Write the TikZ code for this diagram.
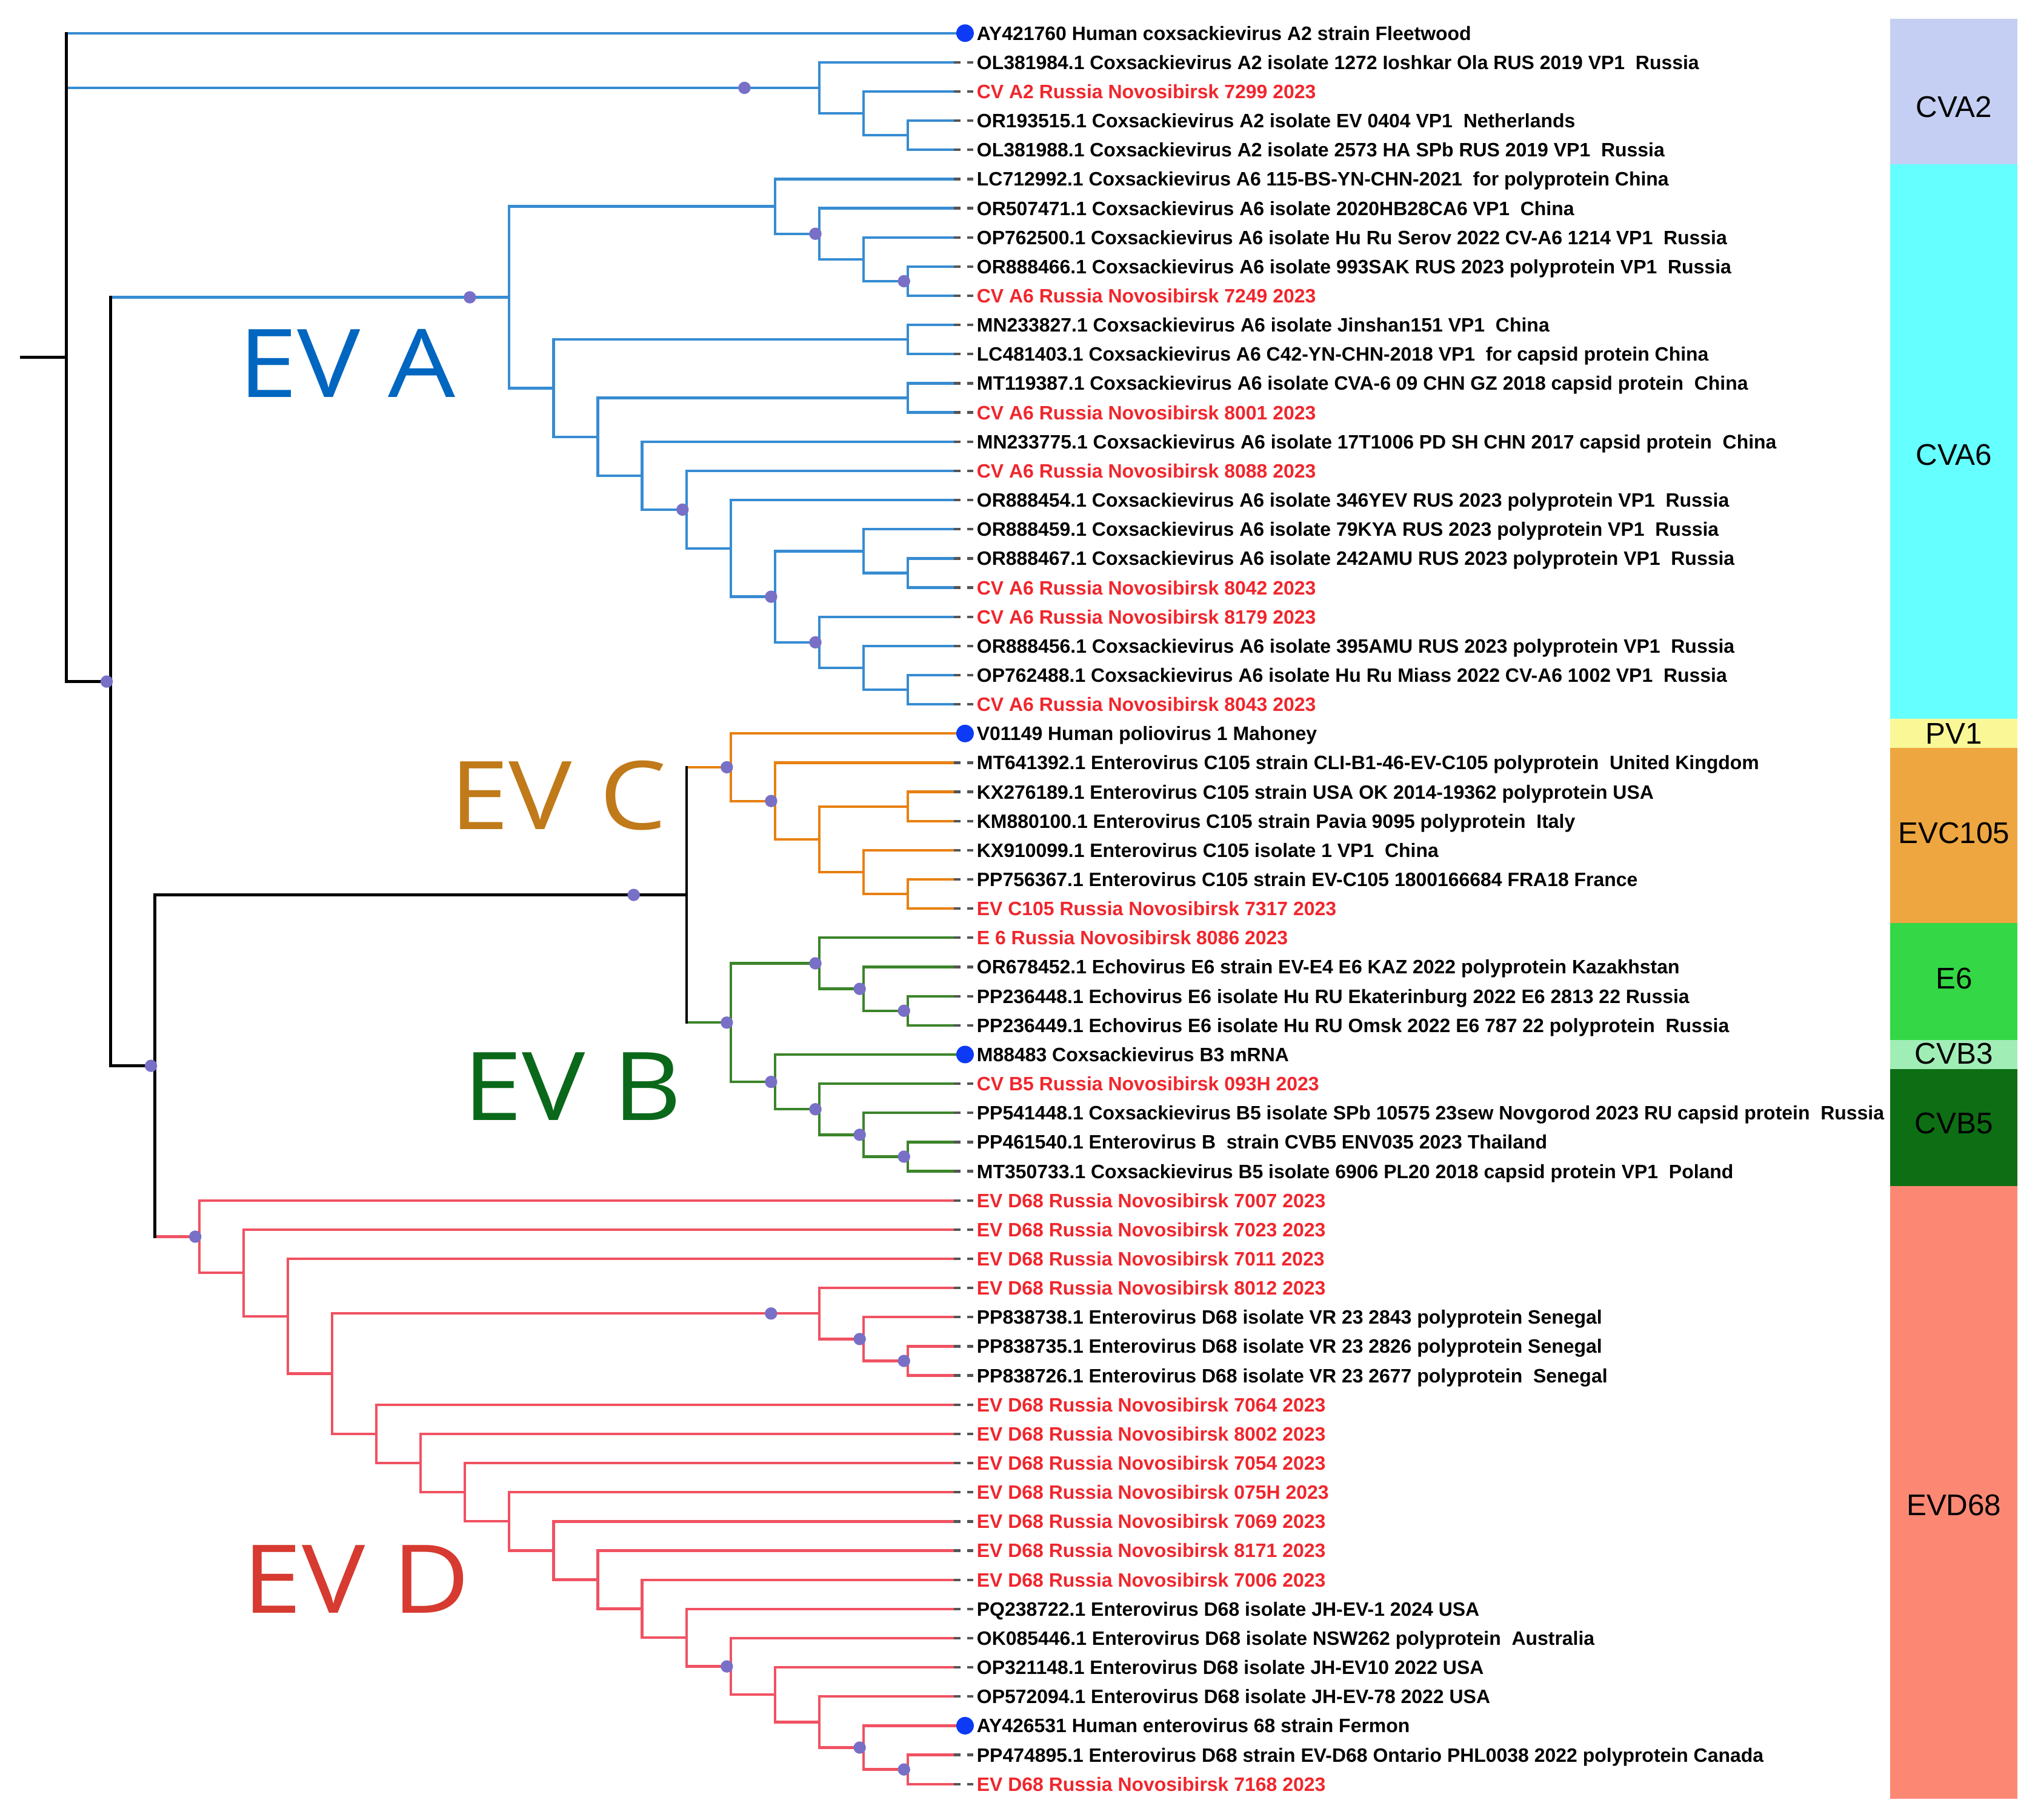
\documentclass[tikz,border=0pt]{standalone}
\usepackage{fontspec}
\setmainfont{Liberation Sans}
\newfontfamily\cladefont[FakeStretch=1.12]{Open Sans}
\definecolor{evablue}{RGB}{55,140,210}
\definecolor{evcorange}{RGB}{232,128,18}
\definecolor{evbgreen}{RGB}{60,132,42}
\definecolor{evdred}{RGB}{240,82,98}
\definecolor{novored}{RGB}{240,38,45}
\definecolor{refblue}{RGB}{12,58,245}
\definecolor{bsviolet}{RGB}{120,112,198}
\definecolor{tipgray}{RGB}{85,85,85}
\definecolor{labA}{RGB}{0,102,192}
\definecolor{labC}{RGB}{192,122,26}
\definecolor{labB}{RGB}{10,104,26}
\definecolor{labD}{RGB}{214,58,48}
\definecolor{barCVAtwo}{RGB}{196,207,243}
\definecolor{barCVAsix}{RGB}{102,255,255}
\definecolor{barPV}{RGB}{250,248,150}
\definecolor{barEVC}{RGB}{238,166,64}
\definecolor{barEsix}{RGB}{52,216,70}
\definecolor{barCVBthree}{RGB}{160,238,182}
\definecolor{barCVBfive}{RGB}{14,110,20}
\definecolor{barEVD}{RGB}{252,136,116}
\tikzset{
  br/.style={line width=2pt},
  base/.style={br,draw=black,line cap=rect},
  eva/.style={br,draw=evablue},
  evc/.style={br,draw=evcorange},
  evb/.style={br,draw=evbgreen},
  evd/.style={br,draw=evdred},
  leaf/.style={anchor=west,inner sep=0pt,text height=10.7pt,text depth=0pt,
    font=\fontsize{14.9}{16}\selectfont\bfseries},
  novo/.style={leaf,text=novored},
  tipdash/.style={line width=2pt,draw=tipgray,dash pattern=on 5pt off 5pt},
  refdot/.style={circle,fill=refblue,inner sep=0pt,minimum size=13.5pt},
  bsdot/.style={circle,fill=bsviolet,inner sep=0pt,minimum size=9.5pt},
  clade/.style={anchor=base west,inner sep=0pt,font=\cladefont\fontsize{73}{80}\selectfont},
  barlbl/.style={inner sep=0pt,font=\fontsize{23}{26}\selectfont}
}
\begin{document}
\begin{tikzpicture}[x=34.08pt,y=-22.45pt]
      \useasboundingbox (-1.4965,-0.1359) rectangle (44.513,62.225);
      \path
        (-1.02,12.11) coordinate (stub)
        (0,12.11) coordinate (r)
        (1,23.22) coordinate (abcd)
        (2,36.387) coordinate (bcd)
        (14,30.531) coordinate (bc)
        (17,2.875) coordinate (A1)
        (18,3.75) coordinate (A2)
        (19,4.5) coordinate (A3)
        (10,10.052) coordinate (A4)
        (16,6.9375) coordinate (A5)
        (17,7.875) coordinate (A6)
        (18,8.75) coordinate (A7)
        (19,9.5) coordinate (A8)
        (11,13.166) coordinate (A9)
        (19,11.5) coordinate (A10)
        (12,14.832) coordinate (A11)
        (19,13.5) coordinate (A12)
        (13,16.164) coordinate (A13)
        (14,17.328) coordinate (A14)
        (15,18.656) coordinate (A15)
        (16,20.313) coordinate (A16)
        (18,18.75) coordinate (A17)
        (19,19.5) coordinate (A18)
        (17,21.875) coordinate (A19)
        (18,22.75) coordinate (A20)
        (19,23.5) coordinate (A21)
        (15,26.156) coordinate (C1)
        (16,27.313) coordinate (C2)
        (17,28.625) coordinate (C3)
        (19,27.5) coordinate (C4)
        (18,29.75) coordinate (C5)
        (19,30.5) coordinate (C6)
        (15,34.906) coordinate (B1)
        (17,32.875) coordinate (B2)
        (18,33.75) coordinate (B3)
        (19,34.5) coordinate (B4)
        (16,36.938) coordinate (B5)
        (17,37.875) coordinate (B6)
        (18,38.75) coordinate (B7)
        (19,39.5) coordinate (B8)
        (3,42.242) coordinate (D1)
        (4,43.484) coordinate (D2)
        (5,44.969) coordinate (D3)
        (6,46.938) coordinate (D4)
        (17,44.875) coordinate (D5)
        (18,45.75) coordinate (D6)
        (19,46.5) coordinate (D7)
        (7,49) coordinate (D8)
        (8,50) coordinate (D9)
        (9,51) coordinate (D10)
        (10,51.999) coordinate (D11)
        (11,52.998) coordinate (D12)
        (12,53.996) coordinate (D13)
        (13,54.992) coordinate (D14)
        (14,55.984) coordinate (D15)
        (15,56.969) coordinate (D16)
        (16,57.938) coordinate (D17)
        (17,58.875) coordinate (D18)
        (18,59.75) coordinate (D19)
        (19,60.5) coordinate (D20);
      \foreach \i in {1,...,61}
        \coordinate (t\i) at (20.04,\i);
      \foreach \i in {1,25,36,59}
        \coordinate (t\i) at (20.29,\i);

      \fill[barCVAtwo] (41.18,0.5) rectangle (44.05,5.5);
      \fill[barCVAsix] (41.18,5.5) rectangle (44.05,24.5);
      \fill[barPV] (41.18,24.5) rectangle (44.05,25.5);
      \fill[barEVC] (41.18,25.5) rectangle (44.05,31.5);
      \fill[barEsix] (41.18,31.5) rectangle (44.05,35.5);
      \fill[barCVBthree] (41.18,35.5) rectangle (44.05,36.5);
      \fill[barCVBfive] (41.18,36.5) rectangle (44.05,40.5);
      \fill[barEVD] (41.18,40.5) rectangle (44.05,61.5);
      \path
        (42.615,3.52) node[barlbl] (g1) {CVA2}
        (42.615,15.45) node[barlbl] (g2) {CVA6}
        (42.615,25) node[barlbl] (g3) {PV1}
        (42.615,28.42) node[barlbl] (g4) {EVC105}
        (42.615,33.39) node[barlbl] (g5) {E6}
        (42.615,35.98) node[barlbl] (g6) {CVB3}
        (42.615,38.36) node[barlbl] (g7) {CVB5}
        (42.615,51.45) node[barlbl] (g8) {EVD68};

      \begin{scope}[eva]
        \draw (t1) -- (r |- t1);
        \draw (A1) -- (r |- A1);
        \draw (A4) -- (abcd |- A4);
        \draw (t2) -| (A1) |- (A2);
        \draw (t3) -| (A2) |- (A3);
        \draw (t4) -| (A3) |- (t5);
        \draw (A5) -| (A4) |- (A9);
        \draw (t6) -| (A5) |- (A6);
        \draw (t7) -| (A6) |- (A7);
        \draw (t8) -| (A7) |- (A8);
        \draw (t9) -| (A8) |- (t10);
        \draw (A10) -| (A9) |- (A11);
        \draw (t11) -| (A10) |- (t12);
        \draw (A12) -| (A11) |- (A13);
        \draw (t13) -| (A12) |- (t14);
        \draw (t15) -| (A13) |- (A14);
        \draw (t16) -| (A14) |- (A15);
        \draw (t17) -| (A15) |- (A16);
        \draw (A17) -| (A16) |- (A19);
        \draw (t18) -| (A17) |- (A18);
        \draw (t19) -| (A18) |- (t20);
        \draw (t21) -| (A19) |- (A20);
        \draw (t22) -| (A20) |- (A21);
        \draw (t23) -| (A21) |- (t24);
      \end{scope}
      \begin{scope}[evc]
        \draw (C1) -- (bc |- C1);
        \draw (t25) -| (C1) |- (C2);
        \draw (t26) -| (C2) |- (C3);
        \draw (C4) -| (C3) |- (C5);
        \draw (t27) -| (C4) |- (t28);
        \draw (t29) -| (C5) |- (C6);
        \draw (t30) -| (C6) |- (t31);
      \end{scope}
      \begin{scope}[evb]
        \draw (B1) -- (bc |- B1);
        \draw (B2) -| (B1) |- (B5);
        \draw (t32) -| (B2) |- (B3);
        \draw (t33) -| (B3) |- (B4);
        \draw (t34) -| (B4) |- (t35);
        \draw (t36) -| (B5) |- (B6);
        \draw (t37) -| (B6) |- (B7);
        \draw (t38) -| (B7) |- (B8);
        \draw (t39) -| (B8) |- (t40);
      \end{scope}
      \begin{scope}[evd]
        \draw (D1) -- (bcd |- D1);
        \draw (t41) -| (D1) |- (D2);
        \draw (t42) -| (D2) |- (D3);
        \draw (t43) -| (D3) |- (D4);
        \draw (D5) -| (D4) |- (D8);
        \draw (t44) -| (D5) |- (D6);
        \draw (t45) -| (D6) |- (D7);
        \draw (t46) -| (D7) |- (t47);
        \draw (t48) -| (D8) |- (D9);
        \draw (t49) -| (D9) |- (D10);
        \draw (t50) -| (D10) |- (D11);
        \draw (t51) -| (D11) |- (D12);
        \draw (t52) -| (D12) |- (D13);
        \draw (t53) -| (D13) |- (D14);
        \draw (t54) -| (D14) |- (D15);
        \draw (t55) -| (D15) |- (D16);
        \draw (t56) -| (D16) |- (D17);
        \draw (t57) -| (D17) |- (D18);
        \draw (t58) -| (D18) |- (D19);
        \draw (t59) -| (D19) |- (D20);
        \draw (t60) -| (D20) |- (t61);
      \end{scope}
      \begin{scope}[base]
        \draw (stub) -- (r);
        \draw (r |- t1) -- (r |- abcd) -- (abcd);
        \draw (abcd |- A4) -- (abcd |- bcd) -- (bcd);
        \draw (bc) -- (bcd |- bc) -- (bcd |- D1);
        \draw (bc |- C1) -- (bc |- B1);
      \end{scope}

      \path
        (20.55,1) node[leaf] (l1) {AY421760 Human coxsackievirus A2 strain Fleetwood}
        (20.55,2) node[leaf] (l2) {OL381984.1 Coxsackievirus A2 isolate 1272 Ioshkar Ola RUS 2019 VP1~~Russia}
        (20.55,3) node[novo] (l3) {CV A2 Russia Novosibirsk 7299 2023}
        (20.55,4) node[leaf] (l4) {OR193515.1 Coxsackievirus A2 isolate EV 0404 VP1~~Netherlands}
        (20.55,5) node[leaf] (l5) {OL381988.1 Coxsackievirus A2 isolate 2573 HA SPb RUS 2019 VP1~~Russia}
        (20.55,6) node[leaf] (l6) {LC712992.1 Coxsackievirus A6 115-BS-YN-CHN-2021~~for polyprotein China}
        (20.55,7) node[leaf] (l7) {OR507471.1 Coxsackievirus A6 isolate 2020HB28CA6 VP1~~China}
        (20.55,8) node[leaf] (l8) {OP762500.1 Coxsackievirus A6 isolate Hu Ru Serov 2022 CV-A6 1214 VP1~~Russia}
        (20.55,9) node[leaf] (l9) {OR888466.1 Coxsackievirus A6 isolate 993SAK RUS 2023 polyprotein VP1~~Russia}
        (20.55,10) node[novo] (l10) {CV A6 Russia Novosibirsk 7249 2023}
        (20.55,11) node[leaf] (l11) {MN233827.1 Coxsackievirus A6 isolate Jinshan151 VP1~~China}
        (20.55,12) node[leaf] (l12) {LC481403.1 Coxsackievirus A6 C42-YN-CHN-2018 VP1~~for capsid protein China}
        (20.55,13) node[leaf] (l13) {MT119387.1 Coxsackievirus A6 isolate CVA-6 09 CHN GZ 2018 capsid protein~~China}
        (20.55,14) node[novo] (l14) {CV A6 Russia Novosibirsk 8001 2023}
        (20.55,15) node[leaf] (l15) {MN233775.1 Coxsackievirus A6 isolate 17T1006 PD SH CHN 2017 capsid protein~~China}
        (20.55,16) node[novo] (l16) {CV A6 Russia Novosibirsk 8088 2023}
        (20.55,17) node[leaf] (l17) {OR888454.1 Coxsackievirus A6 isolate 346YEV RUS 2023 polyprotein VP1~~Russia}
        (20.55,18) node[leaf] (l18) {OR888459.1 Coxsackievirus A6 isolate 79KYA RUS 2023 polyprotein VP1~~Russia}
        (20.55,19) node[leaf] (l19) {OR888467.1 Coxsackievirus A6 isolate 242AMU RUS 2023 polyprotein VP1~~Russia}
        (20.55,20) node[novo] (l20) {CV A6 Russia Novosibirsk 8042 2023}
        (20.55,21) node[novo] (l21) {CV A6 Russia Novosibirsk 8179 2023}
        (20.55,22) node[leaf] (l22) {OR888456.1 Coxsackievirus A6 isolate 395AMU RUS 2023 polyprotein VP1~~Russia}
        (20.55,23) node[leaf] (l23) {OP762488.1 Coxsackievirus A6 isolate Hu Ru Miass 2022 CV-A6 1002 VP1~~Russia}
        (20.55,24) node[novo] (l24) {CV A6 Russia Novosibirsk 8043 2023}
        (20.55,25) node[leaf] (l25) {V01149 Human poliovirus 1 Mahoney}
        (20.55,26) node[leaf] (l26) {MT641392.1 Enterovirus C105 strain CLI-B1-46-EV-C105 polyprotein~~United Kingdom}
        (20.55,27) node[leaf] (l27) {KX276189.1 Enterovirus C105 strain USA OK 2014-19362 polyprotein USA}
        (20.55,28) node[leaf] (l28) {KM880100.1 Enterovirus C105 strain Pavia 9095 polyprotein~~Italy}
        (20.55,29) node[leaf] (l29) {KX910099.1 Enterovirus C105 isolate 1 VP1~~China}
        (20.55,30) node[leaf] (l30) {PP756367.1 Enterovirus C105 strain EV-C105 1800166684 FRA18 France}
        (20.55,31) node[novo] (l31) {EV C105 Russia Novosibirsk 7317 2023}
        (20.55,32) node[novo] (l32) {E 6 Russia Novosibirsk 8086 2023}
        (20.55,33) node[leaf] (l33) {OR678452.1 Echovirus E6 strain EV-E4 E6 KAZ 2022 polyprotein Kazakhstan}
        (20.55,34) node[leaf] (l34) {PP236448.1 Echovirus E6 isolate Hu RU Ekaterinburg 2022 E6 2813 22 Russia}
        (20.55,35) node[leaf] (l35) {PP236449.1 Echovirus E6 isolate Hu RU Omsk 2022 E6 787 22 polyprotein~~Russia}
        (20.55,36) node[leaf] (l36) {M88483 Coxsackievirus B3 mRNA}
        (20.55,37) node[novo] (l37) {CV B5 Russia Novosibirsk 093H 2023}
        (20.55,38) node[leaf] (l38) {PP541448.1 Coxsackievirus B5 isolate SPb 10575 23sew Novgorod 2023 RU capsid protein~~Russia}
        (20.55,39) node[leaf] (l39) {PP461540.1 Enterovirus B~~strain CVB5 ENV035 2023 Thailand}
        (20.55,40) node[leaf] (l40) {MT350733.1 Coxsackievirus B5 isolate 6906 PL20 2018 capsid protein VP1~~Poland}
        (20.55,41) node[novo] (l41) {EV D68 Russia Novosibirsk 7007 2023}
        (20.55,42) node[novo] (l42) {EV D68 Russia Novosibirsk 7023 2023}
        (20.55,43) node[novo] (l43) {EV D68 Russia Novosibirsk 7011 2023}
        (20.55,44) node[novo] (l44) {EV D68 Russia Novosibirsk 8012 2023}
        (20.55,45) node[leaf] (l45) {PP838738.1 Enterovirus D68 isolate VR 23 2843 polyprotein Senegal}
        (20.55,46) node[leaf] (l46) {PP838735.1 Enterovirus D68 isolate VR 23 2826 polyprotein Senegal}
        (20.55,47) node[leaf] (l47) {PP838726.1 Enterovirus D68 isolate VR 23 2677 polyprotein~~Senegal}
        (20.55,48) node[novo] (l48) {EV D68 Russia Novosibirsk 7064 2023}
        (20.55,49) node[novo] (l49) {EV D68 Russia Novosibirsk 8002 2023}
        (20.55,50) node[novo] (l50) {EV D68 Russia Novosibirsk 7054 2023}
        (20.55,51) node[novo] (l51) {EV D68 Russia Novosibirsk 075H 2023}
        (20.55,52) node[novo] (l52) {EV D68 Russia Novosibirsk 7069 2023}
        (20.55,53) node[novo] (l53) {EV D68 Russia Novosibirsk 8171 2023}
        (20.55,54) node[novo] (l54) {EV D68 Russia Novosibirsk 7006 2023}
        (20.55,55) node[leaf] (l55) {PQ238722.1 Enterovirus D68 isolate JH-EV-1 2024 USA}
        (20.55,56) node[leaf] (l56) {OK085446.1 Enterovirus D68 isolate NSW262 polyprotein~~Australia}
        (20.55,57) node[leaf] (l57) {OP321148.1 Enterovirus D68 isolate JH-EV10 2022 USA}
        (20.55,58) node[leaf] (l58) {OP572094.1 Enterovirus D68 isolate JH-EV-78 2022 USA}
        (20.55,59) node[leaf] (l59) {AY426531 Human enterovirus 68 strain Fermon}
        (20.55,60) node[leaf] (l60) {PP474895.1 Enterovirus D68 strain EV-D68 Ontario PHL0038 2022 polyprotein Canada}
        (20.55,61) node[novo] (l61) {EV D68 Russia Novosibirsk 7168 2023};
      \foreach \i in {2,...,24,26,27,...,35,37,38,...,58,60,61}
        \draw[tipdash] (t\i) -- (l\i.west);
      \foreach \i in {1,25,36,59}
        \node[refdot] (d\i) at (t\i) {};

      \node[bsdot] (s1) at (15.31,2.875) {};
      \node[bsdot] (s2) at (9.11,10.052) {};
      \node[bsdot] (s3) at (12.81,30.531) {};
      \node[bsdot] (s4) at (15.91,44.875) {};
      \foreach \n in {abcd,bcd,A6,A8,A14,A16,A19,C1,C2,B1,B2,B3,B4,B5,B6,B7,B8,D1,D6,D7,D16,D19,D20}
        \node[bsdot,xshift=-3pt] (s\n) at (\n) {};

      \node[clade,text=labA] (evA) at (3.88,13.48) {EV A};
      \node[clade,text=labC] (evC) at (8.65,28.28) {EV C};
      \node[clade,text=labB] (evB) at (8.95,38.25) {EV B};
      \node[clade,text=labD] (evD) at (3.98,55.14) {EV D};
\end{tikzpicture}
\end{document}
